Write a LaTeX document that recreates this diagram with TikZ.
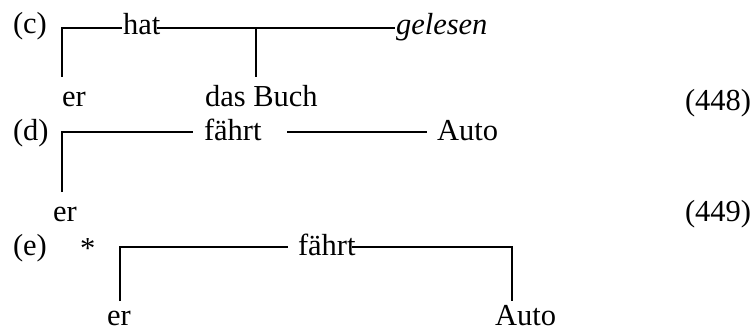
\documentclass[tikz,border=0pt]{standalone}
\usepackage{fontspec}
\setmainfont{Liberation Serif}
\begin{document}
\begin{tikzpicture}[x=1pt,y=-1pt,
  txt/.style={anchor=base west,inner sep=0pt,outer sep=0pt,font=\fontsize{30.5}{36}\selectfont},
  ln/.style={line width=1.7pt}]
\useasboundingbox (0,0) rectangle (754,331);
% (c)
\node[txt] (lc) at (13,34) {(c)};
\node[txt] (hat) at (123,35) {hat};
\node[txt] (gel) at (396,35) {\itshape gelesen};
\node[txt] (cer) at (62,107) {er};
\node[txt] (buch) at (205,107) {das Buch};
\node[txt] (n448) at (685,111) {(448)};
\coordinate (c1) at (62,28);
\coordinate (c1b) at (62,77);
\coordinate (c2) at (122,28);
\coordinate (c3) at (157,28);
\coordinate (c4) at (395,28);
\coordinate (c5) at (256,28);
\coordinate (c5b) at (256,77);
\draw[ln] (c1b) -- (c1) -- (c2);
\draw[ln] (c3) -- (c4);
\draw[ln] (c5) -- (c5b);
% (d)
\node[txt] (ld) at (13,141) {(d)};
\node[txt] (dfa) at (204,141) {fährt};
\node[txt] (dauto) at (437,141) {Auto};
\node[txt] (der) at (53,221) {er};
\node[txt] (n449) at (685,221) {(449)};
\coordinate (d1) at (62,132);
\coordinate (d1b) at (62,192);
\coordinate (d2) at (193,132);
\coordinate (d3) at (287,132);
\coordinate (d4) at (427,132);
\draw[ln] (d1b) -- (d1) -- (d2);
\draw[ln] (d3) -- (d4);
% (e)
\node[txt] (le) at (13,255) {(e)};
\node[txt] (ast) at (80,258) {*};
\node[txt] (efa) at (298,255) {fährt};
\node[txt] (eer) at (107,325) {er};
\node[txt] (eauto) at (495,325) {Auto};
\coordinate (e1) at (120,247);
\coordinate (e1b) at (120,301);
\coordinate (e2) at (288,247);
\coordinate (e3) at (352,247);
\coordinate (e4) at (512,247);
\coordinate (e4b) at (512,301);
\draw[ln] (e1b) -- (e1) -- (e2);
\draw[ln] (e3) -- (e4) -- (e4b);
\end{tikzpicture}
\end{document}
